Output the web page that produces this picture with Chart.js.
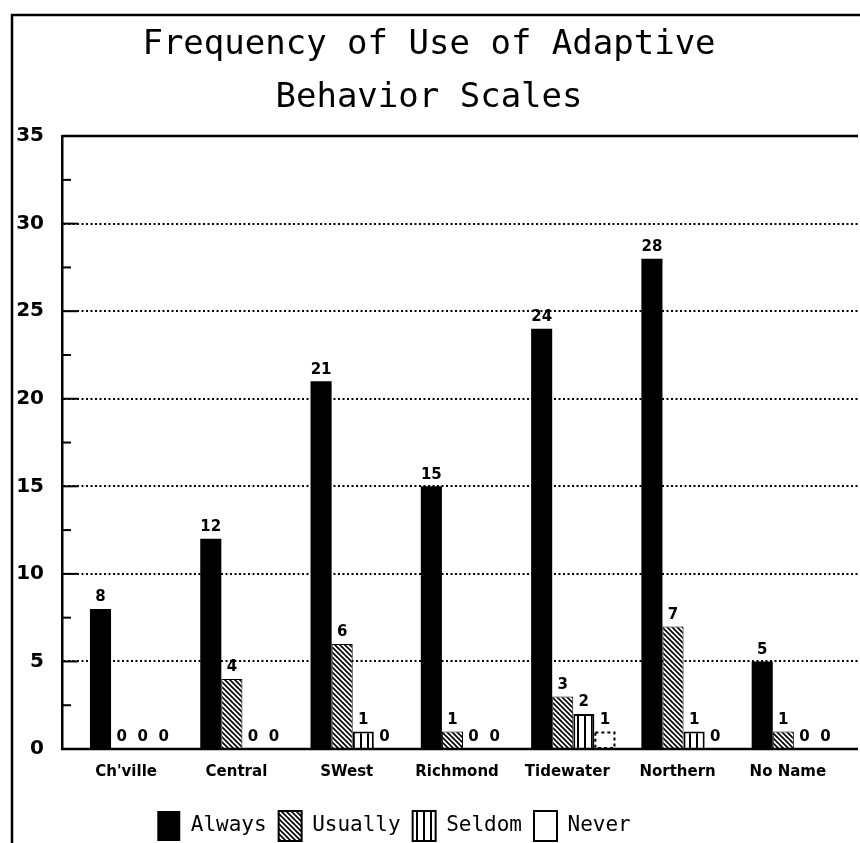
<!DOCTYPE html>
<html><head><meta charset="utf-8">
<script src="https://cdn.jsdelivr.net/npm/chart.js@4/dist/chart.umd.min.js"></script>
<style>html,body{margin:0;padding:0;background:#fff;}#wrap{width:860px;height:843px;}</style>
</head><body><div id="wrap"><canvas id="c" width="860" height="843"></canvas></div>
<script>
const categories = ["Ch'ville","Central","SWest","Richmond","Tidewater","Northern","No Name"];
const always  = [8,12,21,15,24,28,5];
const usually = [0,4,6,1,3,7,1];
const seldom  = [0,0,1,0,2,1,0];
const never   = [0,0,0,0,1,0,0];
const seriesNames = ["Always","Usually","Seldom","Never"];
const titleLines = ["Frequency of Use of Adaptive","Behavior Scales"];
const yMin = 0, yMax = 35, yStep = 2.5, yLabelStep = 5;

const canvas = document.getElementById('c');
const mainCtx = canvas.getContext('2d');

function hatchPattern(){
  const c=document.createElement('canvas'); c.width=c.height=5;
  const g=c.getContext('2d');
  g.fillStyle='#fff'; g.fillRect(0,0,5,5);
  g.strokeStyle='#000'; g.lineWidth=1.7; g.beginPath();
  g.moveTo(-1,-1); g.lineTo(6,6);
  g.moveTo(-1,4); g.lineTo(1,6);
  g.moveTo(4,-1); g.lineTo(6,1);
  g.stroke();
  return mainCtx.createPattern(c,'repeat');
}
function vertPattern(){
  const c=document.createElement('canvas'); c.width=7; c.height=4;
  const g=c.getContext('2d');
  g.fillStyle='#fff'; g.fillRect(0,0,7,4);
  g.fillStyle='#000'; g.fillRect(3,0,2,4);
  return mainCtx.createPattern(c,'repeat');
}

Chart.defaults.font.family = 'DejaVu Sans';
Chart.defaults.color = '#000';

const framePlugin = {
  id:'frame',
  afterLayout(chart){
    // inset the category axis inside the plot frame, as in the original
    const x=chart.scales.x, a=chart.chartArea;
    x.left=a.left+15; x.right=a.right-9; x.width=x.right-x.left;
    x.configure();
    // shift legend slightly left
    if(chart.legend){ chart.legend.left-=35; chart.legend.right-=35; }
  },
  beforeDraw(chart){
    const ctx=chart.ctx;
    ctx.save();
    ctx.fillStyle='#fff'; ctx.fillRect(0,0,chart.width,chart.height);
    ctx.strokeStyle='#000'; ctx.lineWidth=2.5;
    ctx.beginPath();
    ctx.moveTo(12,chart.height); ctx.lineTo(12,15); ctx.lineTo(chart.width,15);
    ctx.stroke();
    ctx.restore();
  },
  afterDraw(chart){
    const ctx=chart.ctx, y=chart.scales.y, a=chart.chartArea;
    ctx.save();
    ctx.strokeStyle='#000';
    ctx.lineWidth=2.5;
    const yt=y.getPixelForValue(yMax), yb=y.getPixelForValue(yMin);
    ctx.beginPath();
    ctx.moveTo(a.left,yt); ctx.lineTo(a.right,yt);
    ctx.moveTo(a.left-1,yb); ctx.lineTo(a.right,yb);
    ctx.stroke();
    ctx.lineWidth=2;
    y.ticks.forEach(t=>{
      const v=t.value;
      if(v<=yMin||v>=yMax) return;
      const py=y.getPixelForValue(v);
      const len=(v%yLabelStep===0)?16:9;
      ctx.beginPath(); ctx.moveTo(a.left,py); ctx.lineTo(a.left+len,py); ctx.stroke();
    });
    ctx.restore();
  },
  afterDatasetsDraw(chart){
    const ctx=chart.ctx;
    ctx.save();
    const mN=chart.getDatasetMeta(3);
    ctx.strokeStyle='#000'; ctx.lineWidth=2; ctx.setLineDash([3,3]);
    mN.data.forEach((el,i)=>{
      if(!never[i]) return;
      const p=el.getProps(['x','y','base','width'],true);
      ctx.strokeRect(p.x-p.width/2+1,p.y+1,p.width-2,p.base-p.y-1);
    });
    ctx.setLineDash([]);
    ctx.fillStyle='#000';
    ctx.font='bold 15px "DejaVu Sans"';
    ctx.textAlign='center'; ctx.textBaseline='bottom';
    chart.data.datasets.forEach((ds,di)=>{
      const meta=chart.getDatasetMeta(di);
      meta.data.forEach((el,i)=>{
        const p=el.getProps(['x','y'],true);
        ctx.fillText(String(ds.data[i]),p.x,p.y-4);
      });
    });
    ctx.restore();
  }
};

new Chart(canvas,{
  type:'bar',
  data:{
    labels:categories,
    datasets:[
      {label:seriesNames[0],data:always,backgroundColor:'#000',borderWidth:0},
      {label:seriesNames[1],data:usually,backgroundColor:hatchPattern(),borderColor:'#000',borderWidth:1},
      {label:seriesNames[2],data:seldom,backgroundColor:vertPattern(),borderColor:'#000',borderWidth:2},
      {label:seriesNames[3],data:never,backgroundColor:'#fff',borderColor:'rgba(0,0,0,0)',borderWidth:0}
    ]
  },
  options:{
    responsive:false,
    animation:false,
    devicePixelRatio:1,
    layout:{padding:{left:0,right:2,top:0,bottom:-8}},
    datasets:{bar:{categoryPercentage:0.765,barPercentage:1.0}},
    plugins:{
      title:{display:true,text:titleLines,color:'#000',
        font:{family:'DejaVu Sans Mono',size:34,weight:'normal',lineHeight:1.56},
        padding:{top:19,bottom:11}},
      legend:{position:'bottom',
        labels:{boxWidth:23,boxHeight:30,padding:12,color:'#000',
          font:{family:'DejaVu Sans Mono',size:21},
          generateLabels(chart){
            const items=Chart.defaults.plugins.legend.labels.generateLabels(chart);
            items.forEach((it,i)=>{it.strokeStyle='#000';it.lineWidth=i===0?0:2;it.fontColor='#000';});
            return items;
          }}},
      tooltip:{enabled:false}
    },
    scales:{
      x:{
        grid:{display:false,drawTicks:false},
        border:{display:false},
        ticks:{padding:14,labelOffset:-6,color:'#000',font:{family:'DejaVu Sans',size:15,weight:'bold'},maxRotation:0,autoSkip:false},
        afterFit(s){s.height=50;}
      },
      y:{
        min:yMin,max:yMax,
        grid:{drawTicks:false,lineWidth:2,
          color:(c)=>{const v=c.tick&&c.tick.value; return (v%yLabelStep===0&&v>yMin&&v<yMax)?'#000':'rgba(0,0,0,0)';}},
        border:{display:true,color:'#000',width:2.5,dash:[2,2.5]},
        ticks:{stepSize:yStep,padding:18,color:'#000',
          font:{family:'DejaVu Sans',size:20,weight:'bold'},
          callback:(v)=> (v%yLabelStep===0)?String(v):''},
        afterFit(s){s.width=62;}
      }
    }
  },
  plugins:[framePlugin]
});
</script></body></html>
